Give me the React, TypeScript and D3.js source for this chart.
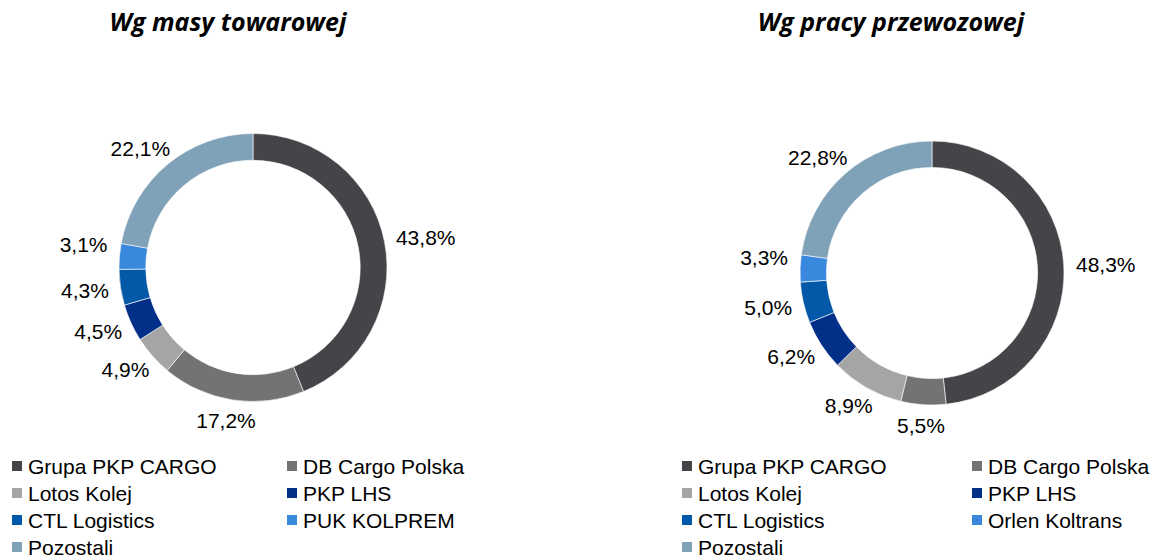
import React from 'react';
import * as d3 from 'd3';

// shares, clockwise from 12 o'clock
const companies = ['Grupa PKP CARGO', 'DB Cargo Polska', 'Lotos Kolej', 'PKP LHS', 'CTL Logistics', 'PUK KOLPREM', 'Pozostali'];
const companiesRight = ['Grupa PKP CARGO', 'DB Cargo Polska', 'Lotos Kolej', 'PKP LHS', 'CTL Logistics', 'Orlen Koltrans', 'Pozostali'];
const massShares = [43.8, 17.2, 4.9, 4.5, 4.3, 3.1, 22.1];
const workShares = [48.3, 5.5, 8.9, 6.2, 5.0, 3.3, 22.8];
const sliceColors = ['#454549', '#737373', '#a5a5a5', '#022f87', '#0359a7', '#3a88de', '#7fa2b8'];

const fmt = (v: number) => v.toFixed(1).replace('.', ',') + '%';

type DonutProps = {
  title: string;
  titleX: number;
  cx: number;
  cy: number;
  r: number;
  values: number[];
  names: string[];
  legendX: number;
  legendCol: number;
};

const Donut = ({ title, titleX, cx, cy, r, values, names, legendX, legendCol }: DonutProps) => {
  const pie = d3.pie<number>().sort(null).value((d) => d);
  const arcs = pie(values);
  const arc = d3.arc<d3.PieArcDatum<number>>().innerRadius(r * 0.8).outerRadius(r);
  const gap = 12;
  const labelH = 18;

  return (
    <g>
      <text x={titleX} y={31} textAnchor="middle"
        style={{ fontFamily: 'Open Sans', fontWeight: 700, fontStyle: 'italic', fontSize: 25 }}>
        {title}
      </text>
      <g transform={`translate(${cx},${cy})`}>
        {arcs.map((a, i) => (
          <path key={i} d={arc(a) || ''} fill={sliceColors[i]} stroke="#fff" strokeWidth={0.6} />
        ))}
        {arcs.map((a, i) => {
          const mid = (a.startAngle + a.endAngle) / 2;
          const dx = Math.sin(mid), dy = -Math.cos(mid);
          const txt = fmt(values[i]);
          const w = txt.length * 12;
          const x = dx * (r + gap) + dx * w / 2;
          // small slices near 9 o'clock sit a little higher in the original
          const lift = dx < 0 && Math.abs(dy) < 0.12 ? -10 : 0;
          const y = dy * (r + gap) + dy * labelH / 2 + lift;
          return (
            <text key={i} x={x} y={y} dy="0.35em" textAnchor="middle"
              style={{ fontFamily: 'Liberation Sans, Arial', fontSize: 21 }} fill="#000">
              {txt}
            </text>
          );
        })}
      </g>
      <g style={{ fontFamily: 'Liberation Sans, Arial', fontSize: 21 }}>
        {names.map((n, i) => {
          const col = i % 2, row = Math.floor(i / 2);
          const x = legendX + col * legendCol;
          const y = 466 + row * 27;
          return (
            <g key={n} transform={`translate(${x},${y})`}>
              <rect x={0} y={-5} width={10} height={10} fill={sliceColors[i]} />
              <text x={16} y={0} dy="0.36em" fill="#000">{n}</text>
            </g>
          );
        })}
      </g>
    </g>
  );
};

export default function App() {
  return (
    <div style={{ position: 'fixed', left: 0, top: 0 }}>
      <svg width={1153} height={558} style={{ display: 'block', background: '#fff' }}>
        <Donut title="Wg masy towarowej" titleX={228} cx={253} cy={267.5} r={134}
          values={massShares} names={companies} legendX={12} legendCol={275} />
        <Donut title="Wg pracy przewozowej" titleX={891} cx={932} cy={273} r={132}
          values={workShares} names={companiesRight} legendX={682} legendCol={290} />
      </svg>
    </div>
  );
}
